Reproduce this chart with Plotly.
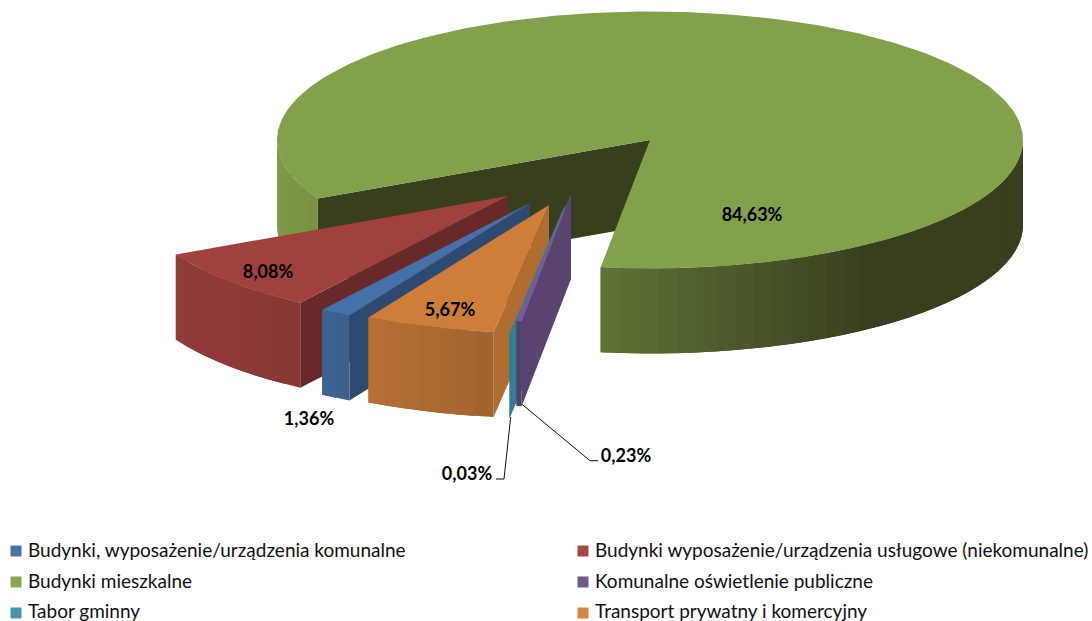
import math
import plotly.graph_objects as go

# ---- data ----
categories = ["Budynki, wyposażenie/urządzenia komunalne",
              "Budynki wyposażenie/urządzenia usługowe (niekomunalne)",
              "Budynki mieszkalne",
              "Komunalne oświetlenie publiczne",
              "Tabor gminny",
              "Transport prywatny i komercyjny"]
values = [1.36, 8.08, 84.63, 0.23, 0.03, 5.67]

# ---- geometry / style ----
W, H = 1092, 621
RX, RY, DEPTH = 373, 128.5, 85
FIRST_ANGLE = 28.95
apex = [(530, 203), (508, 196), (650, 140), (571, 194), (564.6, 205.4), (549, 205)]
draw_order = [2, 1, 0, 5, 4, 3]
top_col = ["#4472a8", "#a0413e", "#83a04b", "#7b5a9a", "#31859b", "#cf7e39"]
cut_col = ["#2e4a70", "#682a29", "#383f1e", "#5b4371", "#2f7f94", "#b06d30"]
# outer wall colour as (x0, colour0, x1, colour1)
wall_col = [(321, "#3f6594", 348, "#3a5f8c"),
            (176, "#913c3a", 300, "#893735"),
            (601, "#5f7236", 870, "#383f1e"),
            (516, "#55406a", 522, "#55406a"),
            (509, "#2f7f94", 516, "#2f7f94"),
            (367, "#b97033", 494, "#9f632e")]
legend_col = ["#4674ab", "#aa4644", "#8aa64f", "#71588f", "#4198af", "#db843d"]
legend_pos = [(16, 551), (583, 551), (16, 582), (583, 582), (16, 613), (583, 613)]
legend_text_y = [552, 552, 583, 583, 613, 613]
label_pos = [(309, 420), (268, 273), (752, 216), (626, 457), (467, 475), (450, 311)]
leaders = {3: ([521.7, 590, 598], [404, 460.7, 460.7]),
           4: ([510.7, 504, 496], [417, 479, 479])}
LABEL_FONT = dict(family="Lato", size=18, color="#000000", weight="bold")
LEGEND_FONT = dict(family="Lato", size=19, color="#111111")


def lerp(c0, c1, t):
    t = max(0, min(1, t))
    a = [int(c0[i:i + 2], 16) for i in (1, 3, 5)]
    b = [int(c1[i:i + 2], 16) for i in (1, 3, 5)]
    return "#%02x%02x%02x" % tuple(round(p + (q - p) * t) for p, q in zip(a, b))


def rim(ax, ay, deg):
    r = math.radians(deg)
    return ax - RX * math.sin(r), ay + RY * math.cos(r)


fig = go.Figure()


def poly(xs, ys, col):
    fig.add_trace(go.Scatter(x=xs, y=ys, mode="lines", fill="toself", fillcolor=col,
                             line=dict(color=col, width=0), hoverinfo="skip",
                             showlegend=False))


def green_left(x):
    return lerp("#7f9a48", "#78913f", (x - 277) / 40)


# angular spans from the values
spans = []
a = FIRST_ANGLE
for v in values:
    b = a + v * 3.6
    spans.append((a, b))
    a = b

for i in draw_order:
    a, b = spans[i]
    ax, ay = apex[i]
    # cut face on the near side
    ex, ey = rim(ax, ay, a)
    poly([ax, ex, ex, ax], [ay, ey, ey + DEPTH, ay + DEPTH], cut_col[i])
    # outer wall, painted as overlapping bands so it can carry the shading
    step = 3.0
    n = max(1, int(math.ceil((b - a) / step)))
    x0, c0, x1, c1 = wall_col[i]
    for k in range(n):
        t0 = a + (b - a) * k / n
        t1 = a + (b - a) * (k + 1) / n
        if math.cos(math.radians((t0 + t1) / 2)) <= 0:
            continue
        xm = (rim(ax, ay, t0)[0] + rim(ax, ay, t1)[0]) / 2
        col = green_left(xm) if (i == 2 and xm < 400) else lerp(c0, c1, (xm - x0) / (x1 - x0))
        # band runs on past its own end; the next band paints over the overlap
        t_end = min(b, t1 + step)
        m = 6
        up = [rim(ax, ay, t0 + (t_end - t0) * j / m) for j in range(m + 1)]
        poly([p[0] for p in up] + [p[0] for p in reversed(up)],
             [p[1] for p in up] + [p[1] + DEPTH for p in reversed(up)], col)
    # top face
    m = max(2, int((b - a) / 1.0))
    pts = [rim(ax, ay, a + (b - a) * k / m) for k in range(m + 1)]
    poly([ax] + [p[0] for p in pts], [ay] + [p[1] for p in pts], top_col[i])

# leader lines
for i, (lx, ly) in leaders.items():
    fig.add_trace(go.Scatter(x=lx, y=ly, mode="lines", line=dict(color="#111111", width=1),
                             hoverinfo="skip", showlegend=False))

# data labels
for i, v in enumerate(values):
    fig.add_trace(go.Scatter(x=[label_pos[i][0]], y=[label_pos[i][1]], mode="text",
                             text=[f"{v:.2f}%".replace(".", ",")], textposition="middle center",
                             textfont=LABEL_FONT, hoverinfo="skip", showlegend=False))

# legend: swatch and its text
for i, name in enumerate(categories):
    lx, ly = legend_pos[i]
    fig.add_trace(go.Scatter(x=[lx], y=[ly], mode="markers", name=name,
                             marker=dict(symbol="square", size=11, color=legend_col[i]),
                             hoverinfo="skip", showlegend=False))
    fig.add_trace(go.Scatter(x=[lx + 12], y=[legend_text_y[i]], mode="text", text=[name],
                             textposition="middle right", textfont=LEGEND_FONT, cliponaxis=False,
                             hoverinfo="skip", showlegend=False))

fig.update_layout(width=W, height=H, margin=dict(l=0, r=0, t=0, b=0),
                  paper_bgcolor="#ffffff", plot_bgcolor="#ffffff", showlegend=False,
                  xaxis=dict(range=[0, W], visible=False, fixedrange=True),
                  yaxis=dict(range=[H, 0], visible=False, fixedrange=True))
fig.write_html("out.html", config={"displayModeBar": False, "responsive": False},
               post_script="document.body.style.margin='0';")
